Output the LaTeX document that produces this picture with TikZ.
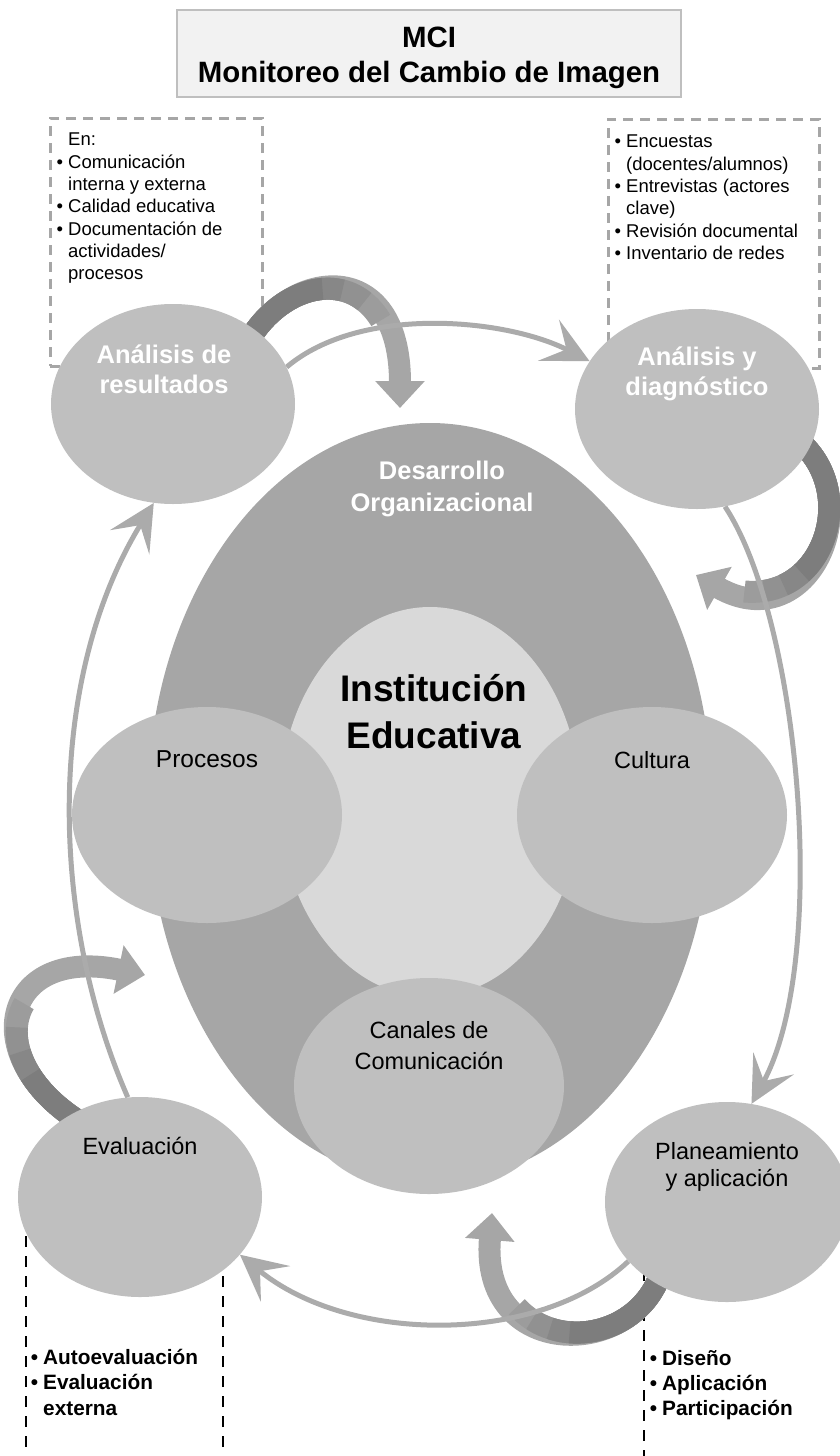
\documentclass[tikz,border=0pt]{standalone}
\usepackage{fontspec}
\setmainfont{Liberation Sans}
\usetikzlibrary{shapes.geometric,arrows.meta}
\definecolor{boxfill}{HTML}{F2F2F2}
\definecolor{boxline}{HTML}{BFBFBF}
\definecolor{stagefill}{HTML}{BFBFBF}
\definecolor{orgfill}{HTML}{A6A6A6}
\definecolor{corefill}{HTML}{D9D9D9}
\definecolor{ringline}{HTML}{ABABAB}
\definecolor{ribone}{HTML}{9C9C9C}
\definecolor{ribtwo}{HTML}{919191}
\definecolor{ribthree}{HTML}{878787}
\definecolor{ribdark}{HTML}{7D7D7D}
\definecolor{riblight}{HTML}{A6A6A6}
\newcommand{\bul}{\llap{\textbullet\hspace{5pt}}}
\pgfdeclarelayer{back}
\pgfdeclarelayer{links}
\pgfsetlayers{back,links,main}

\begin{document}
\begin{tikzpicture}[x=1pt,y=-1pt,
  stage/.style={ellipse,fill=stagefill,inner sep=0pt,minimum width=244pt,minimum height=200pt},
  part/.style={ellipse,fill=stagefill,inner sep=0pt,minimum width=270pt,minimum height=216pt},
  gbox/.style={draw=riblight,line width=3pt,dash pattern=on 10pt off 7pt,inner sep=0pt},
  kbox/.style={draw=black,line width=2.5pt,dash pattern=on 11pt off 9pt,inner sep=0pt},
  ring/.style={draw=ringline,line width=5pt,-{Stealth[length=46pt,width=46pt,inset=20pt]}},
  ribbon/.style n args={4}{draw=riblight,line width=22pt,-{Triangle[length=27pt,width=48pt]},
    postaction={draw=ribone,-,dash pattern=on #4pt off 2000pt},
    postaction={draw=ribtwo,-,dash pattern=on #3pt off 2000pt},
    postaction={draw=ribthree,-,dash pattern=on #2pt off 2000pt},
    postaction={draw=ribdark,-,dash pattern=on #1pt off 2000pt}},
  lbl/.style={font=\fontsize{23.5}{27}\selectfont,align=center,inner sep=0pt},
  wlbl/.style={text=white,font=\fontsize{25.5}{30}\selectfont\bfseries,align=center,inner sep=0pt},
  note/.style={font=\fontsize{18.5}{22.3}\selectfont,align=left,inner sep=0pt,anchor=north west},
  bnote/.style={font=\fontsize{20.8}{25.3}\selectfont\bfseries,align=left,inner sep=0pt,anchor=north west}]
\useasboundingbox (0,0) rectangle (840,1456);
\clip (0,0) rectangle (840,1456);

% dashed frames
\begin{pgfonlayer}{back}
\node[gbox,minimum width=212pt,minimum height=248pt] (resBox) at (156,242) {};
\node[gbox,minimum width=211pt,minimum height=249pt] (diagBox) at (713.5,243.5) {};
\node[kbox,minimum width=197pt,minimum height=290pt] (evalBox) at (124.5,1325) {};
\node[kbox,minimum width=240pt,minimum height=270pt] (planBox) at (764,1335) {};
\end{pgfonlayer}

% organisation
\node[ellipse,fill=orgfill,inner sep=0pt,minimum width=564pt,minimum height=760pt] (dorg) at (430,803) {};
\node[ellipse,fill=corefill,inner sep=0pt,minimum width=300pt,minimum height=390pt] (inst) at (430,802) {};
\node[part] (proc) at (207,815) {};
\node[part] (cult) at (652,815) {};
\node[part] (canal) at (429,1086) {};

% cycle
\node[stage] (res) at (173,404) {};
\node[stage] (diag) at (697,409) {};
\node[stage] (plan) at (727,1202) {};
\node[stage] (eval) at (140,1197) {};

\coordinate (ribA) at (248,342);
\coordinate (ribAend) at (400,408);
\coordinate (ribB) at (798,440);
\coordinate (ribBend) at (696,575);
\coordinate (ribC) at (660,1275);
\coordinate (ribCend) at (492,1213);
\coordinate (ribD) at (85,1125);
\coordinate (ribDend) at (145,975);

\begin{pgfonlayer}{links}
\draw[ribbon={95}{115}{140}{165}] (ribA) .. controls (290,268) and (400,255) .. (ribAend);
\draw[ribbon={150}{172}{192}{212}] (ribB) .. controls (870,500) and (810,640) .. (ribBend);
\draw[ribbon={115}{135}{155}{175}] (ribC) .. controls (630,1360) and (480,1360) .. (ribCend);
\draw[ribbon={75}{100}{125}{150}] (ribD) .. controls (-25,1060) and (0,945) .. (ribDend);

\draw[ring] (res.18) .. controls (360,305) and (505,318) .. (diag.156);
\draw[ring] (diag.-74) .. controls (800,620) and (830,960) .. (plan.76);
\draw[ring] (plan.211) .. controls (540,1345) and (350,1345) .. (eval.-30);
\draw[ring] (eval.97) .. controls (50,920) and (45,680) .. (res.-101);
\end{pgfonlayer}

% title
\node[draw=boxline,fill=boxfill,line width=1.5pt,minimum width=504pt,minimum height=87pt,inner sep=0pt] (mci) at (429,53.5) {};
\node[font=\fontsize{29.4}{35.5}\selectfont\bfseries,align=center,inner sep=0pt] (mciT) at (429,58) {MCI\\Monitoreo del Cambio de Imagen};

% labels
\node[wlbl] (resT) at (164,369) {Análisis de\\resultados};
\node[wlbl] (diagT) at (697,374) {Análisis y\\diagnóstico};
\node[wlbl,font=\fontsize{25.5}{32}\selectfont\bfseries] (dorgT) at (442,489) {Desarrollo\\Organizacional};
\node[font=\fontsize{37}{47}\selectfont\bfseries,align=center,inner sep=0pt] (instT) at (434,712) {Institución\\Educativa};
\node[lbl,font=\fontsize{24.5}{28}\selectfont] (procT) at (207,759) {Procesos};
\node[lbl] (cultT) at (652,760) {Cultura};
\node[lbl,font=\fontsize{23.5}{31}\selectfont] (canalT) at (429,1046) {Canales de\\Comunicación};
\node[lbl] (planT) at (727,1167) {Planeamiento\\y aplicación};
\node[lbl] (evalT) at (140,1146) {Evaluación};

% lists
\node[note] (resList) at (68,133) {En:\\\bul Comunicación\\interna y externa\\\bul Calidad educativa\\\bul Documentación de\\actividades/\\procesos};
\node[note] (diagList) at (626,135) {\bul Encuestas\\(docentes/alumnos)\\\bul Entrevistas (actores\\clave)\\\bul Revisión documental\\\bul Inventario de redes};
\node[bnote] (evalList) at (43,1349) {\bul Autoevaluación\\\bul Evaluación\\externa};
\node[bnote] (planList) at (662,1350) {\bul Diseño\\\bul Aplicación\\\bul Participación};
\end{tikzpicture}
\end{document}
